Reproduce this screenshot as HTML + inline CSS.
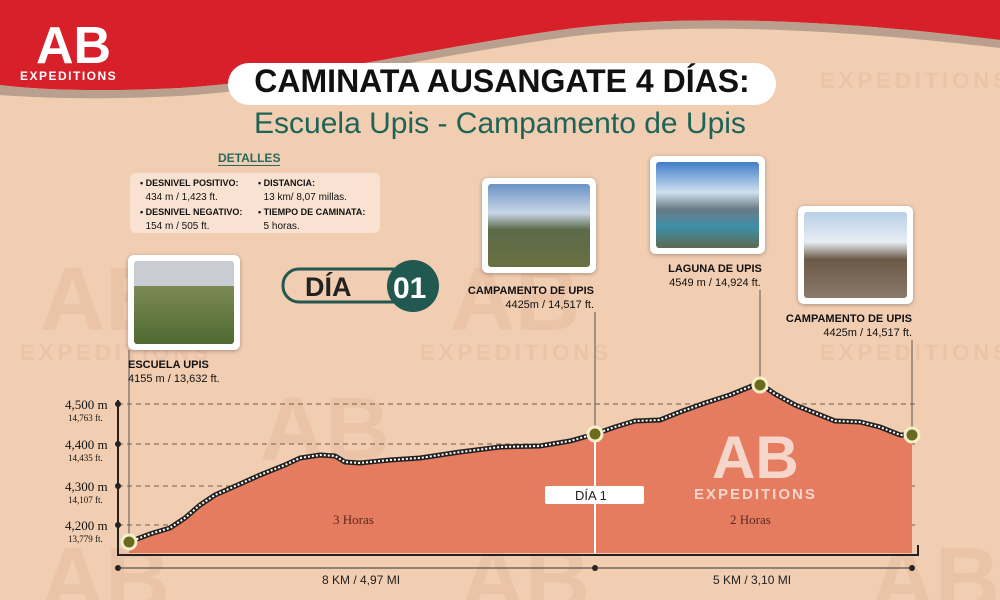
<!DOCTYPE html>
<html><head><meta charset="utf-8"><style>
body{margin:0;width:1000px;height:600px;overflow:hidden;background:#f1cdb1;font-family:"Liberation Sans",sans-serif;position:relative}
.a{position:absolute}
.ph{position:absolute;background:#fff;border-radius:6px;box-shadow:0 1px 4px rgba(0,0,0,.3)}
.ph div{position:absolute;left:6px;top:6px;right:6px;bottom:6px;border-radius:3px}
.lbl{position:absolute;font-size:11px;color:#111;line-height:14px;font-family:"Liberation Sans Narrow","Liberation Sans",sans-serif}
.lbl b{font-size:11px}
</style></head><body>
<svg class="a" style="left:0;top:0" width="1000" height="600">
<path d="M0,0H1000V40C880,25 700,10 560,30C420,50 300,80 180,88C100,92 40,90 0,85Z" fill="#d8202a"/>
<path d="M0,85C40,90 100,92 180,88C300,80 420,50 560,30C700,10 880,25 1000,40V48C880,34 700,18 560,38C420,58 300,88 180,96C100,100 40,98 0,95Z" fill="#b9a08e"/>
<g fill="#e0b597" opacity=".35" font-family="Liberation Sans" font-weight="bold">
<text x="20" y="360" font-size="22" letter-spacing="4">EXPEDITIONS</text>
<text x="420" y="360" font-size="22" letter-spacing="4">EXPEDITIONS</text>
<text x="820" y="360" font-size="22" letter-spacing="4">EXPEDITIONS</text>
<text x="820" y="88" font-size="22" letter-spacing="4">EXPEDITIONS</text>
<text x="40" y="330" font-size="90">AB</text>
<text x="450" y="330" font-size="90">AB</text>
<text x="260" y="460" font-size="90">AB</text>
<text x="40" y="610" font-size="90">AB</text>
<text x="460" y="610" font-size="90">AB</text>
<text x="870" y="610" font-size="90">AB</text>
</g>
<g stroke="#7a5a48" stroke-dasharray="5,4" stroke-width="1">
<line x1="118" y1="404" x2="918" y2="404"/><line x1="118" y1="444" x2="918" y2="444"/>
<line x1="118" y1="486" x2="918" y2="486"/><line x1="118" y1="525" x2="918" y2="525"/>
</g>
<path d="M129,542 L150,534 L170,528 L185,518 L200,505 L215,495 L240,484 L260,475 L285,465 L300,458 L320,455 L335,456 L345,462 L360,463 L390,460 L420,458 L460,452 L500,447 L540,446 L570,441 L595,434 L615,427 L635,421 L660,420 L680,412 L705,403 L730,395 L752,386 L762,385 L775,394 L795,405 L815,413 L835,421 L860,422 L880,427 L900,435 L912,435 L912,553 L129,553 Z" fill="#e57c60"/>
<path d="M129,542 L150,534 L170,528 L185,518 L200,505 L215,495 L240,484 L260,475 L285,465 L300,458 L320,455 L335,456 L345,462 L360,463 L390,460 L420,458 L460,452 L500,447 L540,446 L570,441 L595,434 L615,427 L635,421 L660,420 L680,412 L705,403 L730,395 L752,386 L762,385 L775,394 L795,405 L815,413 L835,421 L860,422 L880,427 L900,435 L912,435" fill="none" stroke="#222" stroke-width="5"/>
<path d="M129,542 L150,534 L170,528 L185,518 L200,505 L215,495 L240,484 L260,475 L285,465 L300,458 L320,455 L335,456 L345,462 L360,463 L390,460 L420,458 L460,452 L500,447 L540,446 L570,441 L595,434 L615,427 L635,421 L660,420 L680,412 L705,403 L730,395 L752,386 L762,385 L775,394 L795,405 L815,413 L835,421 L860,422 L880,427 L900,435 L912,435" fill="none" stroke="#fff" stroke-width="2" stroke-dasharray="2,2"/>
<g stroke="#555" stroke-width="1"><line x1="129" y1="350" x2="129" y2="542"/><line x1="595" y1="312" x2="595" y2="434"/><line x1="760" y1="290" x2="760" y2="385"/><line x1="912" y1="340" x2="912" y2="435"/></g>
<line x1="595" y1="434" x2="595" y2="553" stroke="#fff" stroke-width="2"/>
<g fill="#6b6b1e" stroke="#f4efc8" stroke-width="3"><circle cx="129" cy="542" r="7"/><circle cx="595" cy="434" r="7"/><circle cx="760" cy="385" r="7"/><circle cx="912" cy="435" r="7"/></g>
<path d="M118,400V555H918V545" fill="none" stroke="#222" stroke-width="2"/>
<g fill="#222"><circle cx="118" cy="404" r="3"/><circle cx="118" cy="444" r="3"/><circle cx="118" cy="486" r="3"/><circle cx="118" cy="525" r="3"/>
<circle cx="118" cy="568" r="3"/><circle cx="595" cy="568" r="3"/><circle cx="912" cy="568" r="3"/></g>
<line x1="118" y1="568" x2="912" y2="568" stroke="#333" stroke-width="1"/>
<g font-family="Liberation Serif" fill="#111">
<text x="65" y="409" font-size="13">4,500 m</text><text x="68" y="421" font-size="9">14,763 ft.</text>
<text x="65" y="449" font-size="13">4,400 m</text><text x="68" y="461" font-size="9">14,435 ft.</text>
<text x="65" y="491" font-size="13">4,300 m</text><text x="68" y="503" font-size="9">14,107 ft.</text>
<text x="65" y="530" font-size="13">4,200 m</text><text x="68" y="542" font-size="9">13,779 ft.</text>
<text x="333" y="524" font-size="13" fill="#5a2a20">3 Horas</text>
<text x="730" y="524" font-size="13" fill="#5a2a20">2 Horas</text>
</g>
<g font-family="Liberation Sans" font-size="12" fill="#222"><text x="322" y="584">8 KM / 4,97 MI</text><text x="713" y="584">5 KM / 3,10 MI</text></g>
<rect x="545" y="486" width="99" height="18" rx="2" fill="#fff"/>
<text x="575" y="500" font-size="13" fill="#222" font-family="Liberation Sans">DÍA 1</text>
<g fill="#f6d6ca" font-family="Liberation Sans" font-weight="bold"><text x="712" y="478" font-size="60">AB</text><text x="694" y="499" font-size="15" letter-spacing="2">EXPEDITIONS</text></g>
<text x="36" y="63" font-size="52" font-weight="bold" fill="#fff" font-family="Liberation Sans">AB</text>
<text x="20" y="80" font-size="12" font-weight="bold" fill="#fff" font-family="Liberation Sans" letter-spacing="1.5">EXPEDITIONS</text>
<rect x="283" y="269" width="130" height="33" rx="16" fill="none" stroke="#21584f" stroke-width="3"/>
<circle cx="413" cy="286" r="26" fill="#21584f"/>
<text x="305" y="296" font-size="27" font-weight="bold" fill="#222" font-family="Liberation Sans">DÍA</text>
<text x="393" y="298" font-size="30" font-weight="bold" fill="#fff" font-family="Liberation Sans">01</text>
</svg>
<div class="a" style="left:228px;top:63px;width:548px;height:42px;background:#fff;border-radius:21px"></div>
<div class="a" style="left:228px;top:63px;width:548px;text-align:center;font-size:32px;font-weight:bold;color:#111">CAMINATA AUSANGATE 4 DÍAS:</div>
<div class="a" style="left:200px;top:107px;width:600px;text-align:center;font-size:30px;color:#1e6456">Escuela Upis - Campamento de Upis</div>
<div class="a" style="left:218px;top:151px;font-size:12px;font-weight:bold;color:#2a6a5e;border-bottom:1px solid #2a6a5e">DETALLES</div>
<div class="a" style="left:130px;top:173px;width:250px;height:60px;background:rgba(255,240,230,.6);border-radius:6px"></div>
<div class="lbl" style="left:140px;top:176px;font-size:10px"><b style="font-size:9px">• DESNIVEL POSITIVO:</b><br>&nbsp;&nbsp;434 m / 1,423 ft.<br><b style="font-size:9px">• DESNIVEL NEGATIVO:</b><br>&nbsp;&nbsp;154 m / 505 ft.</div>
<div class="lbl" style="left:258px;top:176px;font-size:10px"><b style="font-size:9px">• DISTANCIA:</b><br>&nbsp;&nbsp;13 km/ 8,07 millas.<br><b style="font-size:9px">• TIEMPO DE CAMINATA:</b><br>&nbsp;&nbsp;5 horas.</div>
<div class="ph" style="left:128px;top:255px;width:112px;height:95px"><div style="background:linear-gradient(#c9ccd0 0 30%,#7d8a55 30%,#4e6a32)"></div></div>
<div class="ph" style="left:482px;top:178px;width:114px;height:95px"><div style="background:linear-gradient(#6b93c6,#c8d6e6 35%,#5b6a4a 55%,#6a7040)"></div></div>
<div class="ph" style="left:650px;top:156px;width:115px;height:98px"><div style="background:linear-gradient(#3f7dc8,#cfe0ef 35%,#6a7a84 55%,#3e8fa8 75%,#5b6a50)"></div></div>
<div class="ph" style="left:798px;top:206px;width:115px;height:98px"><div style="background:linear-gradient(#b8cfe6,#e8eef4 35%,#6c5a48 55%,#8a7a6a)"></div></div>
<div class="lbl" style="left:128px;top:358px"><b>ESCUELA UPIS</b><br>4155 m / 13,632 ft.</div>
<div class="lbl" style="left:462px;top:284px;text-align:right;width:132px"><b>CAMPAMENTO DE UPIS</b><br>4425m / 14,517 ft.</div>
<div class="lbl" style="left:650px;top:262px;text-align:center;width:130px"><b>LAGUNA DE UPIS</b><br>4549 m / 14,924 ft.</div>
<div class="lbl" style="left:770px;top:312px;text-align:right;width:142px"><b>CAMPAMENTO DE UPIS</b><br>4425m / 14,517 ft.</div>
</body></html>
